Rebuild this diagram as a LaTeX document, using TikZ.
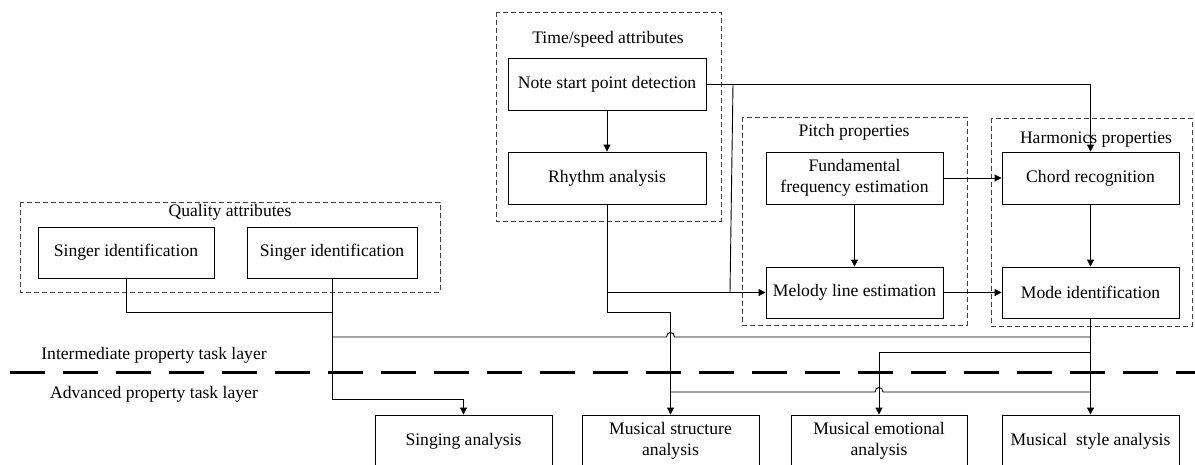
\documentclass[tikz,border=0pt]{standalone}
\usepackage{fontspec}
\setmainfont{Liberation Serif}
\usetikzlibrary{arrows.meta,calc}
\newcommand{\txtfont}{\fontsize{17.6}{21}\selectfont}
\tikzset{
  box/.style={draw, line width=0.9pt, minimum width=177pt, minimum height=52pt, align=center, inner sep=2pt, font=\txtfont},
  grp/.style={draw=black!75, dash pattern=on 5pt off 3pt, line width=0.9pt},
  lbl/.style={font=\txtfont, anchor=base, inner sep=0pt},
  conn/.style={line width=0.9pt},
  arr/.style={conn, -{Triangle[length=7pt,width=7pt]}},
  sepline/.style={line width=3pt, dash pattern=on 35pt off 18pt},
}
\begin{document}
\begin{tikzpicture}[x=1pt,y=-1pt]
\useasboundingbox (0,0) rectangle (1195,464);

% groups
\draw[grp] (496,12) rectangle (721,221);
\node[lbl] (ttime) at (608,43) {Time/speed attributes};
\draw[grp] (742,117) rectangle (967,325);
\node[lbl] (tpitch) at (854,136) {Pitch properties};
\draw[grp] (991,118) rectangle (1192,326);
\node[lbl] (tharm) at (1096,143) {Harmonics properties};
\draw[grp] (20,202) rectangle (440,292);
\node[lbl] (tqual) at (230,216) {Quality attributes};

% boxes
\node[box, minimum width=198pt] (note) at (607,84) {Note start point detection};
\node[box, minimum width=198pt] (rhythm) at (607,178) {Rhythm analysis};
\node[box] (fund) at (854.5,178) {Fundamental\\frequency estimation};
\node[box, minimum height=51pt] (melody) at (854.5,292.5) {Melody line estimation};
\node[box] (chord) at (1090.5,178) {Chord recognition};
\node[box, minimum height=51pt] (mode) at (1090.5,292.5) {Mode identification};
\node[box, minimum width=176pt, minimum height=51pt] (singer1) at (126,252.5) {Singer identification};
\node[box, minimum width=170pt, minimum height=51pt] (singer2) at (332,252.5) {Singer identification};
\node[box] (singing) at (463.5,441) {Singing analysis};
\node[box] (structure) at (670.5,441) {Musical structure\\analysis};
\node[box, minimum width=176pt] (emotional) at (879,441) {Musical emotional\\analysis};
\node[box] (style) at (1090.5,441) {Musical\ \ style analysis};

% layer labels and separator
\node[lbl] (inter) at (154,359) {Intermediate property task layer};
\node[lbl] (adv) at (154,398) {Advanced property task layer};
\draw[sepline] (10,372) -- (1195,372);

% helper coordinates
\coordinate (s1) at (733,84);
\coordinate (s2) at (730,292.5);
\coordinate (r1) at (rhythm.south |- 0,312);
\coordinate (q1) at (singer2.south |- 0,312);
\coordinate (q2) at (singer2.south |- 0,399);
\coordinate (h1) at (singer2.south |- 0,337);
\coordinate (h2) at (mode.south |- 0,337);
\coordinate (e1) at (mode.south |- 0,352);
\coordinate (m1) at (structure.north |- 0,392);
\coordinate (m2) at (mode.south |- 0,392);

% connectors
\draw[arr] (note) -- (rhythm);
\draw[arr] (note.east) -| (chord.north);
\draw[conn] (s1) -- (s2);
\draw[arr] (rhythm.south) |- (melody.west);
\draw[arr] (rhythm.south) -- (r1) -| (structure.north);
\draw[arr] (fund) -- (chord);
\draw[arr] (fund) -- (melody);
\draw[arr] (chord) -- (mode);
\draw[arr] (melody) -- (mode);
\draw[conn] (singer1.south) |- (q1);
\draw[arr] (singer2.south) -- (q2) -| (singing.north);
\draw[conn] (h1) -- ($(structure.north |- h1)+(-4,0)$)
  .. controls ($(structure.north |- h1)+(-4,-6)$) and ($(structure.north |- h1)+(4,-6)$) .. ($(structure.north |- h1)+(4,0)$) -- (h2);
\draw[arr] (mode.south) -- (style.north);
\draw[arr] (e1) -| (emotional.north);
\draw[conn] (m1) -- ($(emotional.north |- m1)+(-4,0)$)
  .. controls ($(emotional.north |- m1)+(-4,-6)$) and ($(emotional.north |- m1)+(4,-6)$) .. ($(emotional.north |- m1)+(4,0)$) -- (m2);
\end{tikzpicture}
\end{document}
